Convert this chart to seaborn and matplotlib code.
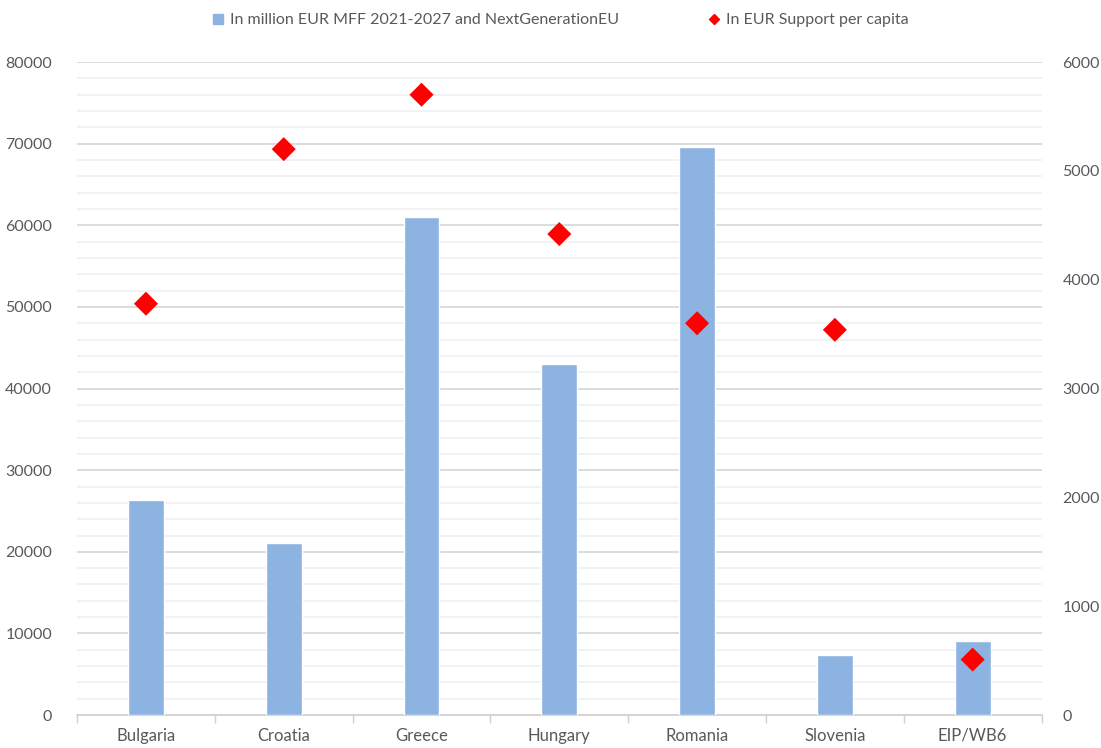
import matplotlib
matplotlib.use("Agg")
import matplotlib.pyplot as plt
from matplotlib.ticker import MultipleLocator
from matplotlib.lines import Line2D
import seaborn as sns
import pandas as pd

countries = ["Bulgaria", "Croatia", "Greece", "Hungary", "Romania", "Slovenia", "EIP/WB6"]
funds_meur = [26300, 21100, 61000, 43000, 69600, 7400, 9100]
per_capita_eur = [3780, 5200, 5700, 4420, 3600, 3540, 510]

bar_label = "In million EUR MFF 2021-2027 and NextGenerationEU"
dot_label = "In EUR Support per capita"

df = pd.DataFrame({"country": countries, "funds": funds_meur, "per_capita": per_capita_eur})

sns.set_theme(style="white")
plt.rcParams["font.family"] = ["Lato", "DejaVu Sans"]

text_gray = "#595959"
bar_color = "#8DB3E2"

fig = plt.figure(figsize=(11.01, 7.48), dpi=100)
ax = fig.add_axes([0.070, 0.044, 0.876, 0.873])

sns.barplot(data=df, x="country", y="funds", color=bar_color, width=0.26,
            saturation=1, ax=ax, zorder=3)
ax.set_ylim(0, 80000)
ax.set_xlim(-0.5, len(countries) - 0.5)
ax.yaxis.set_major_locator(MultipleLocator(10000))
ax.yaxis.set_minor_locator(MultipleLocator(2000))
ax.grid(axis="y", which="major", color="#d9d9d9", linewidth=1.3, zorder=0)
ax.grid(axis="y", which="minor", color="#f0f0f0", linewidth=1.2, zorder=0)
ax.set_axisbelow(True)
ax.set_xlabel("")
ax.set_ylabel("")
for s in ["top", "right", "left"]:
    ax.spines[s].set_visible(False)
ax.spines["bottom"].set_color("#d0d0d0")
ax.spines["bottom"].set_linewidth(1.2)

# category separators below the baseline
ax.set_xticks([i - 0.5 for i in range(len(countries) + 1)], minor=True)
ax.tick_params(axis="x", which="minor", length=6, color="#d0d0d0", width=1, bottom=True)
ax.tick_params(axis="x", which="major", length=0, pad=9, labelsize=12, labelcolor=text_gray)
ax.tick_params(axis="y", which="both", length=0, pad=18, labelsize=11.5, labelcolor=text_gray)

ax2 = ax.twinx()
sns.scatterplot(data=df, x="country", y="per_capita", marker="D", s=150,
                color="#FF0000", edgecolor="none", ax=ax2, zorder=4, legend=False)
ax2.set_ylim(0, 6000)
ax2.yaxis.set_major_locator(MultipleLocator(1000))
ax2.set_ylabel("")
ax2.grid(False)
for s in ["top", "right", "left", "bottom"]:
    ax2.spines[s].set_visible(False)
ax2.tick_params(axis="y", length=0, pad=15, labelsize=11.5, labelcolor=text_gray)
ax2.set_xlim(-0.5, len(countries) - 0.5)

handles = [
    Line2D([], [], marker="s", linestyle="none", color=bar_color, markersize=7),
    Line2D([], [], marker="D", linestyle="none", color="#FF0000", markersize=5),
]
fig.legend(handles, [bar_label, dot_label], loc="center", bbox_to_anchor=(0.508, 0.973),
           ncol=2, frameon=False, fontsize=11.5, labelcolor=text_gray,
           handletextpad=0.2, columnspacing=5.5, handlelength=1.0)

fig.savefig("out.png", dpi=100)
